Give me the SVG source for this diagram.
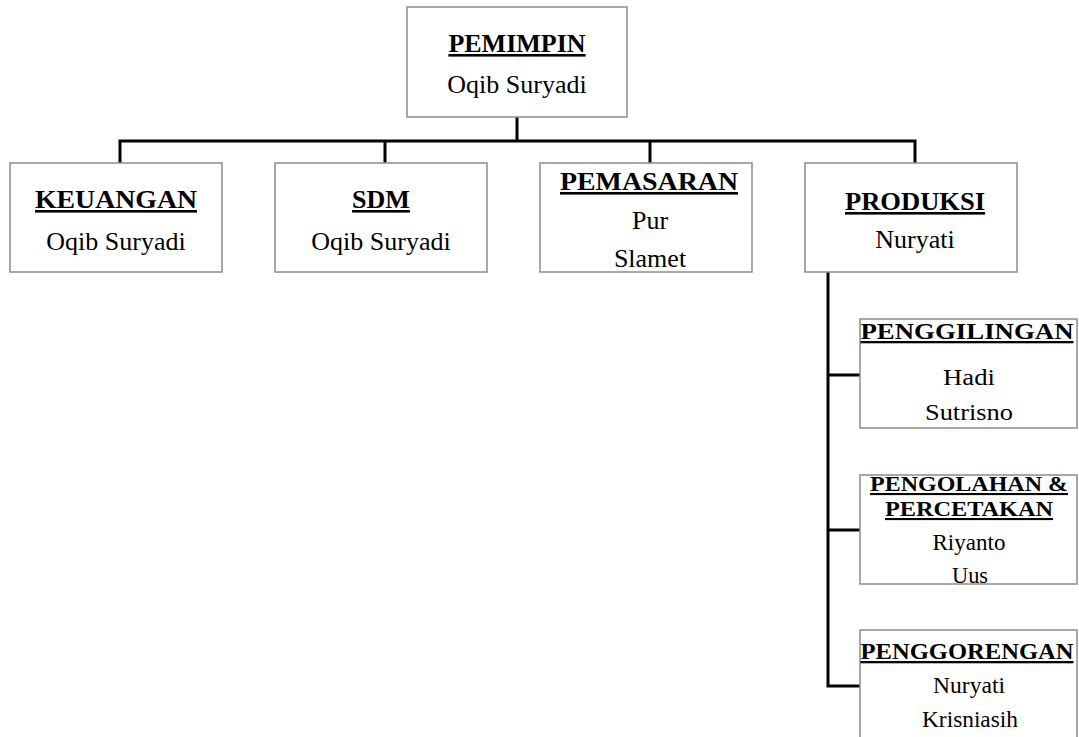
<svg xmlns="http://www.w3.org/2000/svg" width="1079" height="737" viewBox="0 0 1079 737">
<style>
.box{fill:#fff;stroke:#8c8c8c;stroke-width:1.5}
.t{font-family:"Liberation Serif","Times New Roman",serif;font-weight:bold;text-decoration:underline;fill:#000;text-anchor:middle}
.n{font-family:"Liberation Serif","Times New Roman",serif;fill:#000;text-anchor:middle}
.c{fill:none;stroke:#000;stroke-width:3}
</style>
<rect width="1079" height="737" fill="#fff"/>
<g id="connectors">
<path class="c" d="M517 117V141M118.5 141H916.5M120 141V163M385 141V163M650 141V163M915 141V163"/>
<path class="c" d="M828 272V686H860M828 375H860M828 530H860"/>
</g>
<g id="pemimpin">
<rect class="box" x="407" y="7" width="220" height="110"/>
<text class="t" x="517" y="52" font-size="26">PEMIMPIN</text>
<text class="n" x="517" y="93" font-size="26">Oqib Suryadi</text>
</g>
<g id="keuangan">
<rect class="box" x="10" y="163" width="212" height="109"/>
<text class="t" x="116" y="208" font-size="26" textLength="162" lengthAdjust="spacingAndGlyphs">KEUANGAN</text>
<text class="n" x="116" y="250" font-size="26">Oqib Suryadi</text>
</g>
<g id="sdm">
<rect class="box" x="275" y="163" width="212" height="109"/>
<text class="t" x="381" y="208" font-size="26">SDM</text>
<text class="n" x="381" y="250" font-size="26">Oqib Suryadi</text>
</g>
<g id="pemasaran">
<rect class="box" x="540" y="163" width="212" height="109"/>
<text class="t" x="649" y="190" font-size="26" textLength="178" lengthAdjust="spacingAndGlyphs">PEMASARAN</text>
<text class="n" x="650" y="229" font-size="26">Pur</text>
<text class="n" x="650" y="267" font-size="26">Slamet</text>
</g>
<g id="produksi">
<rect class="box" x="805" y="163" width="212" height="109"/>
<text class="t" x="915" y="210" font-size="26" textLength="140" lengthAdjust="spacingAndGlyphs">PRODUKSI</text>
<text class="n" x="915" y="248" font-size="26">Nuryati</text>
</g>
<g id="penggilingan">
<rect class="box" x="860" y="319" width="217" height="109"/>
<text class="t" x="967" y="339" font-size="23" textLength="213" lengthAdjust="spacingAndGlyphs">PENGGILINGAN</text>
<text class="n" x="969" y="385" font-size="23" textLength="52" lengthAdjust="spacingAndGlyphs">Hadi</text>
<text class="n" x="969" y="420" font-size="23" textLength="88" lengthAdjust="spacingAndGlyphs">Sutrisno</text>
</g>
<g id="pengolahan">
<rect class="box" x="860" y="475" width="217" height="109"/>
<text class="t" x="969" y="491" font-size="21" textLength="198" lengthAdjust="spacingAndGlyphs">PENGOLAHAN &amp;</text>
<text class="t" x="969" y="516" font-size="21" textLength="168" lengthAdjust="spacingAndGlyphs">PERCETAKAN</text>
<text class="n" x="969" y="550" font-size="23" textLength="73" lengthAdjust="spacingAndGlyphs">Riyanto</text>
<text class="n" x="970" y="583" font-size="23" textLength="36" lengthAdjust="spacingAndGlyphs">Uus</text>
</g>
<g id="penggorengan">
<rect class="box" x="860" y="630" width="217" height="120"/>
<text class="t" x="967" y="659" font-size="23" textLength="213" lengthAdjust="spacingAndGlyphs">PENGGORENGAN</text>
<text class="n" x="969" y="693" font-size="23" textLength="72" lengthAdjust="spacingAndGlyphs">Nuryati</text>
<text class="n" x="970" y="727" font-size="23" textLength="96" lengthAdjust="spacingAndGlyphs">Krisniasih</text>
</g>
</svg>
